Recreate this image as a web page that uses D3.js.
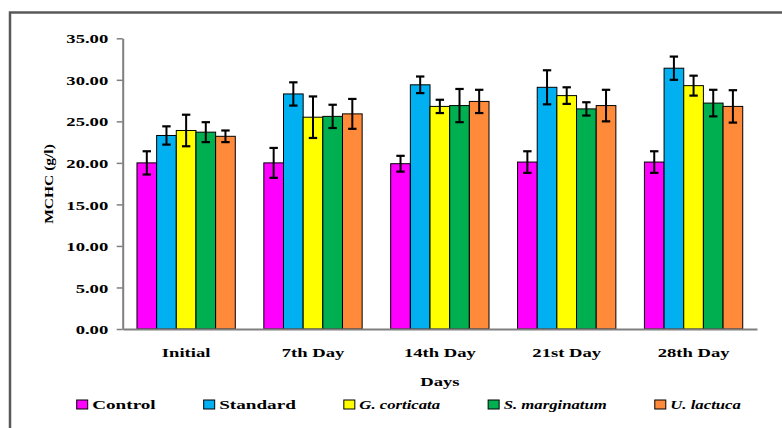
<!DOCTYPE html>
<html>
<head>
<meta charset="utf-8">
<script src="https://cdn.jsdelivr.net/npm/d3@7"></script>
<style>
  html, body { margin: 0; padding: 0; background: #fff; }
  svg { display: block; }
  text { font-family: "Liberation Serif", "Times New Roman", serif; font-weight: bold; fill: #000; }
</style>
</head>
<body>
<svg id="chart" width="782" height="428"></svg>
<script>
// MCHC (g/l) by treatment group over the study period, mean ± error
const days = ["Initial", "7th Day", "14th Day", "21st Day", "28th Day"];
const groups = ["Control", "Standard", "G. corticata", "S. marginatum", "U. lactuca"];
const italicGroups = [false, false, true, true, true];
const colors = ["#FF00FF", "#00B0F0", "#FFFF00", "#00B050", "#FF8A3A"];

const control      = [20.0, 20.0, 19.9, 20.1, 20.1];
const standard     = [23.3, 28.3, 29.4, 29.1, 31.4];
const gCorticata   = [23.9, 25.5, 26.8, 28.1, 29.3];
const sMarginatum  = [23.7, 25.6, 26.9, 26.5, 27.2];
const uLactuca     = [23.2, 25.9, 27.4, 26.9, 26.8];

const controlErr     = [1.4, 1.8, 0.95, 1.3, 1.3];
const standardErr    = [1.1, 1.4, 1.0, 2.05, 1.4];
const gCorticataErr  = [1.9, 2.5, 0.8, 1.0, 1.2];
const sMarginatumErr = [1.2, 1.4, 2.0, 0.8, 1.6];
const uLactucaErr    = [0.7, 1.8, 1.4, 1.9, 1.95];

const yTicks = [0, 5, 10, 15, 20, 25, 30, 35];

const seriesValues = [control, standard, gCorticata, sMarginatum, uLactuca];
const seriesErrors = [controlErr, standardErr, gCorticataErr, sMarginatumErr, uLactucaErr];

const svg = d3.select("#chart");
const axisGrey = "#7f7f7f";
const sxAxis = 1.38;       // wide letterforms used throughout the chart
const sxLegend = 1.42;
const sxLegendItalic = 1.24;

// chart frame
svg.append("rect")
  .attr("x", 10).attr("y", 12.5)
  .attr("width", 800).attr("height", 440)
  .attr("fill", "none").attr("stroke", "#595959").attr("stroke-width", 2.5);

const plot = { left: 122.7, right: 757, top: 38.3, bottom: 329 };

const x0 = d3.scaleBand().domain(days).range([plot.left, plot.right]).paddingInner(0.225).paddingOuter(0.1125);
const x1 = d3.scaleBand().domain(groups).range([0, x0.bandwidth()]);
const y = d3.scaleLinear().domain([0, 35]).range([plot.bottom, plot.top]);

// bars
const dayG = svg.append("g").selectAll("g")
  .data(days).join("g")
  .attr("transform", d => `translate(${x0(d)},0)`);

dayG.selectAll("rect")
  .data((d, di) => groups.map((g, gi) => ({ g, gi, v: seriesValues[gi][di] })))
  .join("rect")
  .attr("x", d => x1(d.g))
  .attr("y", d => y(d.v))
  .attr("width", x1.bandwidth())
  .attr("height", d => y(0) - y(d.v))
  .attr("fill", d => colors[d.gi])
  .attr("stroke", "#000").attr("stroke-width", 1);

// error bars
const errs = dayG.selectAll("g.err")
  .data((d, di) => groups.map((g, gi) => ({ g, v: seriesValues[gi][di], e: seriesErrors[gi][di] })))
  .join("g").attr("class", "err")
  .attr("transform", d => `translate(${x1(d.g) + x1.bandwidth() / 2},0)`);
errs.append("line")
  .attr("x1", 0).attr("x2", 0)
  .attr("y1", d => y(d.v + d.e)).attr("y2", d => y(d.v - d.e))
  .attr("stroke", "#000").attr("stroke-width", 2);
errs.selectAll("line.cap")
  .data(d => [d.v + d.e, d.v - d.e])
  .join("line").attr("class", "cap")
  .attr("x1", -4.2).attr("x2", 4.2)
  .attr("y1", d => y(d)).attr("y2", d => y(d))
  .attr("stroke", "#000").attr("stroke-width", 2.2);

// y axis
const yAxis = svg.append("g")
  .attr("transform", `translate(${plot.left},0)`)
  .call(d3.axisLeft(y).tickValues(yTicks).tickFormat(d3.format(".2f")).tickSize(6).tickSizeOuter(0));
yAxis.select(".domain").attr("stroke", axisGrey).attr("stroke-width", 2);
yAxis.selectAll(".tick line").attr("stroke", axisGrey).attr("stroke-width", 1.5);
yAxis.selectAll(".tick text")
  .attr("x", null).attr("dy", null)
  .attr("transform", `translate(-14.5,4.6) scale(${sxAxis},1)`)
  .attr("text-anchor", "end")
  .style("font-family", "Liberation Serif").style("font-weight", "bold")
  .style("font-size", "13.5px").attr("fill", "#000");

// x axis
const xAxis = svg.append("g")
  .attr("transform", `translate(0,${plot.bottom})`)
  .call(d3.axisBottom(x0).tickSize(0).tickSizeOuter(0));
xAxis.select(".domain").attr("stroke", axisGrey).attr("stroke-width", 2);
xAxis.selectAll(".tick text")
  .attr("y", null).attr("dy", null)
  .attr("transform", `translate(0,28) scale(${sxAxis},1)`)
  .style("font-family", "Liberation Serif").style("font-weight", "bold")
  .style("font-size", "13.5px").attr("fill", "#000");

// axis titles
svg.append("text")
  .attr("transform", `translate(${(plot.left + plot.right) / 2},386) scale(${sxAxis},1)`)
  .attr("text-anchor", "middle").style("font-size", "13.5px")
  .text("Days");

svg.append("text")
  .attr("transform", `translate(52.5,184) rotate(-90) scale(1.15,1)`)
  .attr("text-anchor", "middle").style("font-size", "13.5px")
  .text("MCHC (g/l)");

// legend laid out left to right
const legend = svg.append("g").attr("transform", "translate(76.7,0)");
let cursor = 0;
groups.forEach((g, i) => {
  const sx = italicGroups[i] ? sxLegendItalic : sxLegend;
  const item = legend.append("g").attr("transform", `translate(${cursor},0)`);
  item.append("rect")
    .attr("x", 0).attr("y", 400).attr("width", 11).attr("height", 9)
    .attr("fill", colors[i]).attr("stroke", "#000").attr("stroke-width", 1);
  const t = item.append("text")
    .attr("transform", `translate(15.5,409) scale(${sx},1)`)
    .style("font-size", "13.5px")
    .style("font-style", italicGroups[i] ? "italic" : "normal")
    .text(g);
  const w = t.node().getComputedTextLength() * sx;
  cursor += 15.5 + w + 48;
});
</script>
</body>
</html>
